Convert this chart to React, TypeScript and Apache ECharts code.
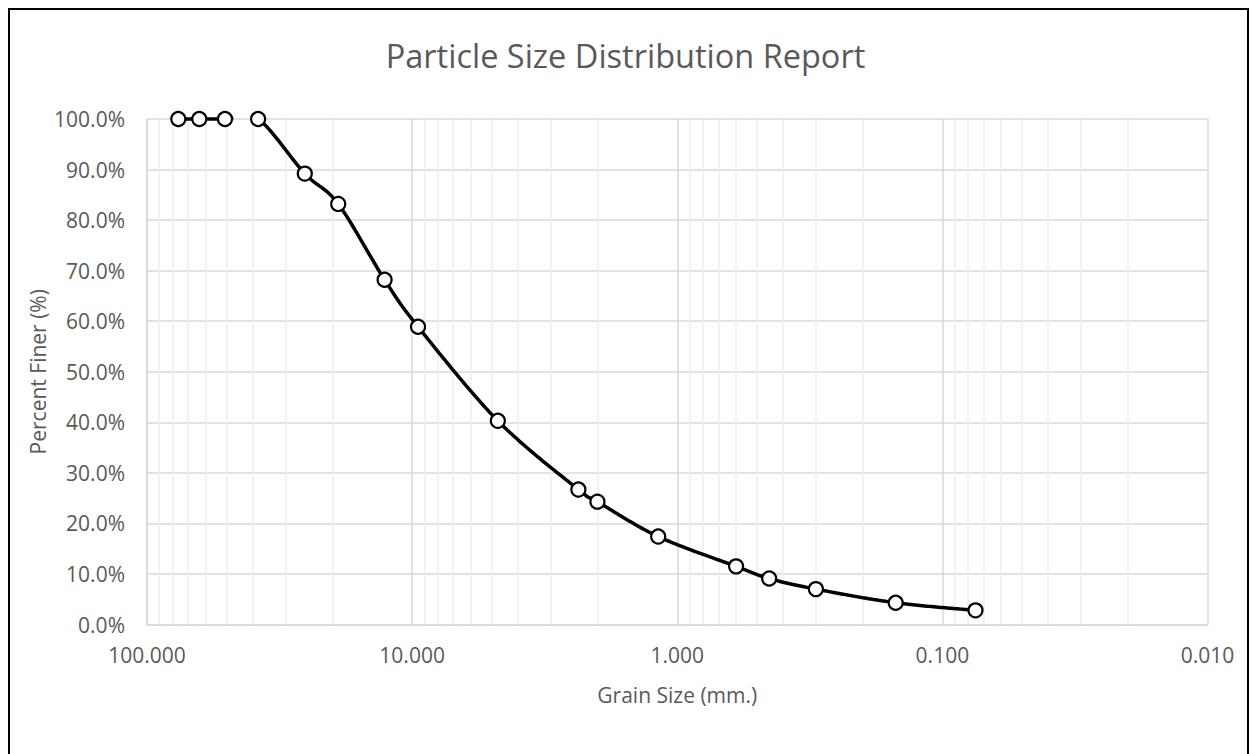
import React, { useEffect, useRef } from "react";
import * as echarts from "echarts";

const grainSizes = [76.2, 63.5, 50.8, 38.1, 25.4, 19.0, 12.7, 9.5, 4.75, 2.36, 2.0, 1.18, 0.6, 0.45, 0.3, 0.15, 0.075];
const percentFiner = [100, 100, 100, 100, 89.2, 83.2, 68.2, 58.9, 40.3, 26.7, 24.3, 17.4, 11.5, 9.1, 7.0, 4.3, 2.8];
const minorGridValues = [
  0.02, 0.03, 0.04, 0.05, 0.06, 0.07, 0.08, 0.09,
  0.2, 0.3, 0.4, 0.5, 0.6, 0.7, 0.8, 0.9,
  2, 3, 4, 5, 6, 7, 8, 9,
  20, 30, 40, 50, 60, 70, 80, 90,
];
const yTicks = [0, 10, 20, 30, 40, 50, 60, 70, 80, 90, 100];

const FONT = "'Open Sans', 'Noto Sans', sans-serif";
const TEXT = "#595959";

export default function App() {
  const ref = useRef<HTMLDivElement>(null);
  useEffect(() => {
    document.body.style.margin = "0";
    if (!ref.current) return;
    const chart = echarts.init(ref.current, null, { renderer: "svg" });
    const points = grainSizes.map((g, i) => [g, percentFiner[i]]);

    const renderCurve = (params: any, api: any) => {
      if (params.dataIndex !== 0) return null;
      const p = points.map((pt) => api.coord(pt));
      const topY = api.coord([1, 100])[1];
      const limit = topY - 1.5;
      const n = p.length;
      const samples: number[][] = [];
      for (let i = 0; i < n - 1; i++) {
        const p0 = p[Math.max(i - 1, 0)];
        const p1 = p[i];
        const p2 = p[i + 1];
        const p3 = p[Math.min(i + 2, n - 1)];
        const c1 = [p1[0] + (p2[0] - p0[0]) / 6, p1[1] + (p2[1] - p0[1]) / 6];
        const c2 = [p2[0] - (p3[0] - p1[0]) / 6, p2[1] - (p3[1] - p1[1]) / 6];
        const steps = 40;
        for (let s = i === 0 ? 0 : 1; s <= steps; s++) {
          const t = s / steps;
          const u = 1 - t;
          const x = u * u * u * p1[0] + 3 * u * u * t * c1[0] + 3 * u * t * t * c2[0] + t * t * t * p2[0];
          const y = u * u * u * p1[1] + 3 * u * u * t * c1[1] + 3 * u * t * t * c2[1] + t * t * t * p2[1];
          samples.push([x, y]);
        }
      }
      let d = "";
      let drawing = false;
      for (const [x, y] of samples) {
        if (y < limit) {
          drawing = false;
          continue;
        }
        d += (drawing ? " L" : " M") + x.toFixed(2) + "," + y.toFixed(2);
        drawing = true;
      }
      return {
        type: "path",
        shape: { pathData: d.trim() },
        style: { stroke: "#000000", lineWidth: 3.5, fill: "none", lineJoin: "round", lineCap: "butt" },
      };
    };

    chart.setOption({
      animation: false,
      backgroundColor: "#ffffff",
      textStyle: { fontFamily: FONT },
      title: {
        text: "Particle Size Distribution Report",
        left: "center",
        top: 34,
        textStyle: { fontFamily: FONT, fontSize: 32.5, fontWeight: "normal", color: TEXT },
      },
      graphic: [
        {
          type: "rect",
          shape: { x: 9, y: 9, width: 1239, height: 780 },
          style: { fill: "none", stroke: "#000", lineWidth: 2 },
          silent: true,
        },
      ],
      grid: { left: 147, right: 43.5, top: 119, bottom: 129.5 },
      xAxis: {
        type: "log",
        logBase: 10,
        min: 0.01,
        max: 100,
        inverse: true,
        name: "Grain Size (mm.)",
        nameLocation: "middle",
        nameGap: 60,
        nameMoveOverlap: false,
        nameTextStyle: { fontFamily: FONT, fontSize: 21, color: TEXT },
        axisLine: { lineStyle: { color: "#d9d9d9", width: 1.5 } },
        axisTick: { show: false },
        axisLabel: {
          fontFamily: FONT,
          fontSize: 21,
          color: TEXT,
          margin: 20,
          formatter: (v: number) => v.toFixed(3),
        },
        splitLine: { show: true, lineStyle: { color: "#d9d9d9", width: 1.5 } },
      },
      yAxis: {
        type: "value",
        min: 0,
        max: 100,
        interval: 10,
        name: "Percent Finer (%)",
        nameLocation: "middle",
        nameGap: 99,
        nameMoveOverlap: false,
        nameTextStyle: { fontFamily: FONT, fontSize: 21, color: TEXT },
        axisLine: { show: true, lineStyle: { color: "#d9d9d9", width: 1.5 } },
        axisTick: { show: false },
        axisLabel: {
          fontFamily: FONT,
          fontSize: 21,
          color: TEXT,
          margin: 22,
          formatter: (v: number) => (yTicks.includes(v) ? v.toFixed(1) + "%" : ""),
        },
        splitLine: { show: true, lineStyle: { color: "#d9d9d9", width: 1.5 } },
      },
      series: [
        {
          type: "custom",
          data: points,
          clip: false,
          silent: true,
          z: 2,
          renderItem: renderCurve,
          markLine: {
            silent: true,
            symbol: ["none", "none"],
            z: 1,
            label: { show: false },
            lineStyle: { color: "#eeeeee", width: 1.5, type: "solid" },
            data: minorGridValues.map((v) => ({ xAxis: v })),
          },
        },
        {
          type: "scatter",
          data: points,
          symbol: "circle",
          symbolSize: 14,
          z: 3,
          itemStyle: { color: "#ffffff", borderColor: "#000000", borderWidth: 2.2, opacity: 1 },
        },
      ],
    });
    return () => chart.dispose();
  }, []);
  return <div ref={ref} style={{ width: 1251, height: 754 }} />;
}
